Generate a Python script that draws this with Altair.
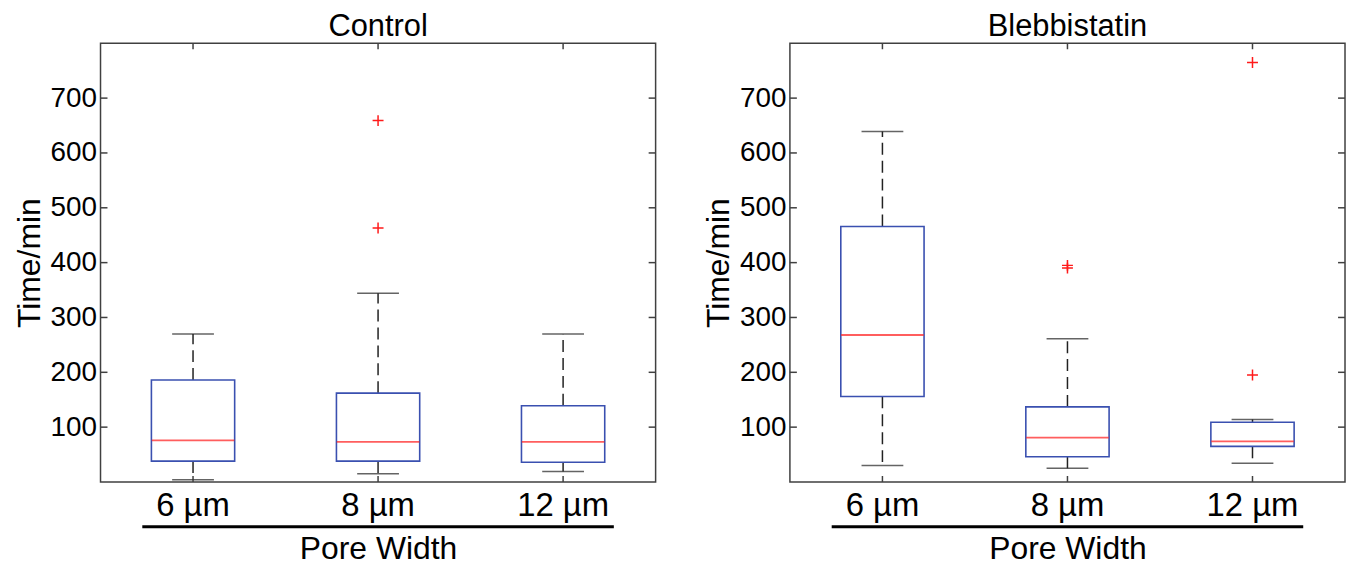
import altair as alt
import pandas as pd

# ---------------- data ----------------
categories = ["6 µm", "8 µm", "12 µm"]
panel_titles = ["Control", "Blebbistatin"]
y_ticks = [100, 200, 300, 400, 500, 600, 700]

ctrl_low = [4, 15, 19]
ctrl_q1 = [38, 38, 36]
ctrl_med = [76, 73, 73]
ctrl_q3 = [186, 162, 139]
ctrl_high = [270, 344, 270]
ctrl_out_cat = ["8 µm", "8 µm"]
ctrl_out_val = [463, 659]

bleb_low = [30, 25, 34]
bleb_q1 = [156, 46, 65]
bleb_med = [268, 81, 74]
bleb_q3 = [466, 137, 109]
bleb_high = [639, 261, 114]
bleb_out_cat = ["8 µm", "8 µm", "12 µm", "12 µm"]
bleb_out_val = [390, 395, 195, 765]

# ---------------- style ----------------
FONT = "Liberation Sans"
BLUE = "#3a50b0"
RED = "#ff1a1a"
FRAME = "#404040"
W, H = 558, 441

x_scale = alt.Scale(domain=categories, paddingInner=0, paddingOuter=0)
y_scale = alt.Scale(domain=[0, 800], nice=False, zero=False)

x_axis = alt.Axis(title="Pore Width", labelAngle=0, labelFontSize=33, titleFontSize=32,
                  titleFontWeight="normal", ticks=False, tickSize=0, domain=False, grid=False,
                  labelPadding=8, titlePadding=11, labelColor="black", titleColor="black",
                  labelFont=FONT, titleFont=FONT)
y_axis = alt.Axis(title="Time/min", values=y_ticks, labelFontSize=28, titleFontSize=32,
                  titleFontWeight="normal", ticks=False, tickSize=0, domain=False, grid=False,
                  labelPadding=4, titlePadding=4, labelColor="black", titleColor="black",
                  labelFont=FONT, titleFont=FONT)


def X(field):
    return alt.X(field, type="nominal", scale=x_scale, sort=categories, axis=x_axis)


def Y(field):
    return alt.Y(field, type="quantitative", scale=y_scale, axis=y_axis)


def panel(title, low, q1, med, q3, high, out_cat, out_val):
    stats = pd.DataFrame({"cat": categories, "low": low, "q1": q1, "med": med,
                          "q3": q3, "high": high})
    outl = pd.DataFrame({"cat": out_cat, "val": out_val})
    ticks = pd.DataFrame({"t": y_ticks})
    cats = pd.DataFrame({"cat": categories})
    base = alt.Chart(stats)

    whisk_up = base.mark_rule(color="#222222", strokeWidth=1.5, strokeDash=[12, 6]).encode(
        x=X("cat"), y=Y("q3"), y2="high")
    whisk_lo = base.mark_rule(color="#222222", strokeWidth=1.5, strokeDash=[12, 6]).encode(
        x=X("cat"), y=Y("q1"), y2="low")
    cap_hi = base.mark_tick(color="#222222", size=42, thickness=1.5).encode(x=X("cat"), y=Y("high"))
    cap_lo = base.mark_tick(color="#222222", size=42, thickness=1.5).encode(x=X("cat"), y=Y("low"))
    box = base.mark_bar(width=alt.RelativeBandSize(0.45), fill="white", stroke=BLUE,
                        strokeWidth=1.6).encode(x=X("cat"), y=Y("q1"), y2="q3")
    median = base.mark_tick(color=RED, size=83, thickness=1.8).encode(x=X("cat"), y=Y("med"))
    fliers = alt.Chart(outl).mark_point(shape="M-1,0L1,0M0,-1L0,1", size=121, filled=False,
                                        stroke=RED, strokeWidth=1.5, opacity=1).encode(
        x=X("cat"), y=Y("val"))

    yt_left = alt.Chart(ticks).mark_rule(color=FRAME, strokeWidth=1.5).encode(
        y=Y("t"), x=alt.value(0), x2=alt.value(7))
    yt_right = alt.Chart(ticks).mark_rule(color=FRAME, strokeWidth=1.5).encode(
        y=Y("t"), x=alt.value(W - 7), x2=alt.value(W))
    xt_bot = alt.Chart(cats).mark_rule(color=FRAME, strokeWidth=1.5).encode(
        x=X("cat"), y=alt.value(H - 6), y2=alt.value(H))
    xt_top = alt.Chart(cats).mark_rule(color=FRAME, strokeWidth=1.5).encode(
        x=X("cat"), y=alt.value(0), y2=alt.value(6))

    underline = alt.Chart(pd.DataFrame({"k": [0]})).mark_rule(color="black", strokeWidth=3).encode(
        x=alt.value(42), x2=alt.value(516), y=alt.value(486))

    return alt.layer(
        whisk_up, whisk_lo, cap_hi, cap_lo, box, median, fliers,
        yt_left, yt_right, xt_bot, xt_top, underline
    ).properties(
        width=W, height=H,
        title=alt.Title(title, fontSize=31, font=FONT, fontWeight="normal", color="black", offset=0),
    )


left = panel(panel_titles[0], ctrl_low, ctrl_q1, ctrl_med, ctrl_q3, ctrl_high,
             ctrl_out_cat, ctrl_out_val)
right = panel(panel_titles[1], bleb_low, bleb_q1, bleb_med, bleb_q3, bleb_high,
              bleb_out_cat, bleb_out_val)

chart = alt.hconcat(left, right, spacing=44).properties(
    padding={"left": 4, "top": 0, "right": 0, "bottom": 0}
).configure_view(stroke=FRAME, strokeWidth=1.5)

chart.save("out.html", embed_options={"renderer": "svg", "actions": False})
